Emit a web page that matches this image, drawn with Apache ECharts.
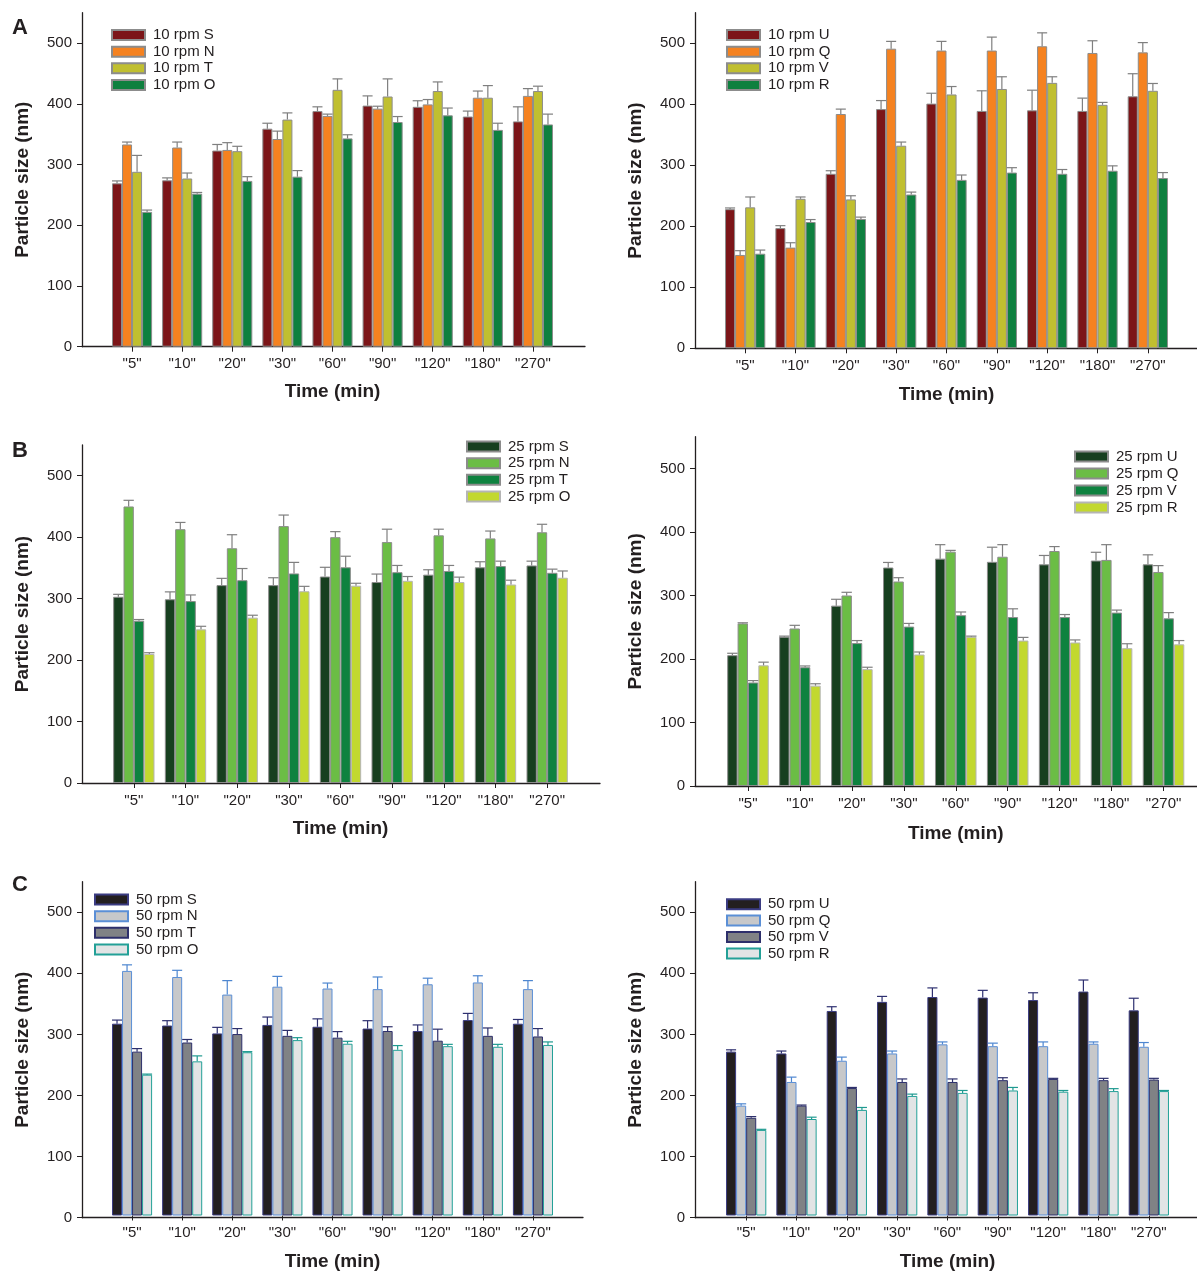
<!DOCTYPE html>
<html>
<head>
<meta charset="utf-8">
<script src="https://cdn.jsdelivr.net/npm/echarts@6/dist/echarts.min.js"></script>
<style>
html,body{margin:0;padding:0;background:#fff;}
#chart{width:1197px;height:1272px;}
</style>
</head>
<body>
<div id="chart"></div>
<script>
// ---------- DATA ----------
const categories = ['"5"', '"10"', '"20"', '"30"', '"60"', '"90"', '"120"', '"180"', '"270"'];
const yTickValues = [0, 100, 200, 300, 400, 500];

// Panel A, left: 10 rpm S, N, T, O
const rpm10S = [269, 274, 323, 359, 388, 397, 395, 379, 371];
const rpm10S_err = [4, 4, 10, 9, 7, 16, 10, 9, 24];
const rpm10N = [333, 328, 324, 342, 380, 392, 399, 410, 413];
const rpm10N_err = [4, 9, 12, 13, 3, 4, 8, 11, 12];
const rpm10T = [288, 277, 322, 374, 423, 412, 421, 410, 421];
const rpm10T_err = [27, 9, 8, 11, 18, 29, 15, 20, 8];
const rpm10O = [222, 252, 273, 280, 343, 370, 381, 357, 366];
const rpm10O_err = [3, 2, 7, 10, 6, 9, 12, 11, 17];

// Panel A, right: 10 rpm U, Q, V, R
const rpm10U = [228, 197, 286, 392, 401, 389, 390, 389, 413];
const rpm10U_err = [2, 4, 5, 14, 17, 33, 33, 21, 37];
const rpm10Q = [153, 165, 384, 491, 488, 488, 495, 484, 485];
const rpm10Q_err = [7, 8, 8, 12, 15, 22, 22, 20, 16];
const rpm10V = [231, 245, 244, 332, 416, 425, 435, 399, 422];
const rpm10V_err = [17, 3, 6, 6, 13, 20, 10, 4, 12];
const rpm10R = [155, 207, 212, 252, 276, 288, 286, 291, 279];
const rpm10R_err = [6, 4, 3, 4, 8, 8, 7, 8, 9];

// Panel B, left: 25 rpm S, N, T, O
const rpm25S = [303, 299, 322, 322, 336, 327, 339, 351, 354];
const rpm25S_err = [4, 12, 11, 12, 15, 13, 8, 9, 7];
const rpm25N = [450, 413, 382, 418, 400, 392, 403, 398, 408];
const rpm25N_err = [10, 11, 22, 18, 9, 21, 10, 12, 13];
const rpm25T = [264, 296, 330, 341, 351, 343, 345, 353, 342];
const rpm25T_err = [2, 10, 19, 18, 18, 11, 9, 8, 6];
const rpm25O = [210, 250, 269, 312, 321, 329, 327, 323, 334];
const rpm25O_err = [2, 5, 4, 8, 4, 7, 8, 7, 11];

// Panel B, right: 25 rpm U, Q, V, R
const rpm25U = [206, 235, 284, 344, 358, 353, 349, 355, 349];
const rpm25U_err = [3, 1, 10, 8, 22, 23, 14, 13, 15];
const rpm25Q = [256, 248, 300, 322, 369, 361, 370, 356, 337];
const rpm25Q_err = [1, 5, 5, 6, 2, 19, 7, 24, 10];
const rpm25V = [163, 187, 225, 251, 269, 266, 266, 273, 264];
const rpm25V_err = [3, 2, 4, 5, 5, 13, 4, 4, 9];
const rpm25R = [190, 158, 184, 207, 235, 229, 226, 217, 223];
const rpm25R_err = [5, 3, 3, 4, 1, 5, 4, 7, 6];

// Panel C, left: 50 rpm S, N, T, O
const rpm50S = [316, 313, 300, 314, 311, 308, 304, 322, 316];
const rpm50S_err = [6, 8, 10, 13, 13, 13, 10, 11, 7];
const rpm50N = [403, 393, 364, 377, 374, 373, 381, 384, 373];
const rpm50N_err = [10, 11, 23, 17, 9, 20, 10, 11, 14];
const rpm50T = [270, 285, 299, 296, 293, 304, 288, 296, 295];
const rpm50T_err = [5, 5, 9, 9, 10, 7, 19, 13, 13];
const rpm50O = [232, 254, 269, 289, 283, 273, 279, 278, 281];
const rpm50O_err = [1, 9, 1, 4, 4, 7, 3, 4, 5];

// Panel C, right: 50 rpm U, Q, V, R
const rpm50U = [270, 267, 337, 352, 360, 359, 355, 369, 338];
const rpm50U_err = [3, 4, 7, 9, 15, 12, 12, 19, 20];
const rpm50Q = [181, 220, 255, 267, 282, 279, 279, 283, 278];
const rpm50Q_err = [3, 8, 6, 4, 4, 5, 7, 3, 7];
const rpm50V = [161, 181, 210, 220, 220, 223, 225, 223, 224];
const rpm50V_err = [2, 1, 1, 5, 5, 4, 1, 3, 2];
const rpm50R = [141, 159, 174, 197, 202, 206, 204, 205, 205];
const rpm50R_err = [1, 3, 4, 3, 4, 5, 2, 4, 1];

// ---------- STYLES / LAYOUT ----------
const FONT = '"Liberation Sans", Arial, Helvetica, sans-serif';
const TXT = '#231f20';
const grayBorder = '#8c8c8c';
const grayErr = '#7f7f7f';

const panels = [
  { // A left
    frame: {left: 82, width: 503}, bars: {left: 107, width: 451}, top: 12.7, zero: 346.7,
    legend: {left: 111, firstRow: 35, gap: 16.67}, xNameGap: 36,
    series: [
      {name: '10 rpm S', v: rpm10S, e: rpm10S_err, fill: '#7c1518', border: grayBorder, err: grayErr},
      {name: '10 rpm N', v: rpm10N, e: rpm10N_err, fill: '#f58220', border: grayBorder, err: grayErr},
      {name: '10 rpm T', v: rpm10T, e: rpm10T_err, fill: '#c0bf30', border: grayBorder, err: grayErr},
      {name: '10 rpm O', v: rpm10O, e: rpm10O_err, fill: '#0e803f', border: grayBorder, err: grayErr}
    ]
  },
  { // A right
    frame: {left: 695, width: 502}, bars: {left: 720, width: 453}, top: 12.7, zero: 348.3,
    legend: {left: 726, firstRow: 35, gap: 16.67}, xNameGap: 37,
    series: [
      {name: '10 rpm U', v: rpm10U, e: rpm10U_err, fill: '#7c1518', border: grayBorder, err: grayErr},
      {name: '10 rpm Q', v: rpm10Q, e: rpm10Q_err, fill: '#f58220', border: grayBorder, err: grayErr},
      {name: '10 rpm V', v: rpm10V, e: rpm10V_err, fill: '#c0bf30', border: grayBorder, err: grayErr},
      {name: '10 rpm R', v: rpm10R, e: rpm10R_err, fill: '#0e803f', border: grayBorder, err: grayErr}
    ]
  },
  { // B left
    frame: {left: 82, width: 518}, bars: {left: 108, width: 465}, top: 445, zero: 783,
    legend: {left: 466, firstRow: 446.5, gap: 16.67}, xNameGap: 36,
    series: [
      {name: '25 rpm S', v: rpm25S, e: rpm25S_err, fill: '#173f1f', border: grayBorder, err: grayErr},
      {name: '25 rpm N', v: rpm25N, e: rpm25N_err, fill: '#6bbd45', border: grayBorder, err: grayErr},
      {name: '25 rpm T', v: rpm25T, e: rpm25T_err, fill: '#0e823f', border: grayBorder, err: grayErr},
      {name: '25 rpm O', v: rpm25O, e: rpm25O_err, fill: '#c2d82f', border: '#b5b5b5', err: grayErr}
    ]
  },
  { // B right
    frame: {left: 695, width: 502}, bars: {left: 722, width: 467.5}, top: 436.7, zero: 786,
    legend: {left: 1074, firstRow: 456.5, gap: 17}, xNameGap: 38,
    series: [
      {name: '25 rpm U', v: rpm25U, e: rpm25U_err, fill: '#173f1f', border: grayBorder, err: grayErr},
      {name: '25 rpm Q', v: rpm25Q, e: rpm25Q_err, fill: '#6bbd45', border: grayBorder, err: grayErr},
      {name: '25 rpm V', v: rpm25V, e: rpm25V_err, fill: '#0e823f', border: grayBorder, err: grayErr},
      {name: '25 rpm R', v: rpm25R, e: rpm25R_err, fill: '#c2d82f', border: '#b5b5b5', err: grayErr}
    ]
  },
  { // C left
    frame: {left: 82, width: 501}, bars: {left: 107, width: 451}, top: 881.7, zero: 1217.7,
    legend: {left: 94, firstRow: 899.5, gap: 16.67}, xNameGap: 36.5,
    series: [
      {name: '50 rpm S', v: rpm50S, e: rpm50S_err, fill: '#231f20', border: '#3b3c82', err: '#2e3070'},
      {name: '50 rpm N', v: rpm50N, e: rpm50N_err, fill: '#c7c8ca', border: '#5b8fd6', err: '#4d86d0'},
      {name: '50 rpm T', v: rpm50T, e: rpm50T_err, fill: '#808285', border: '#2d2f6b', err: '#2d2f6b'},
      {name: '50 rpm O', v: rpm50O, e: rpm50O_err, fill: '#e2e4e5', border: '#23a097', err: '#1f9a90'}
    ]
  },
  { // C right
    frame: {left: 695, width: 502}, bars: {left: 721, width: 453}, top: 881.7, zero: 1217.7,
    legend: {left: 726, firstRow: 904.2, gap: 16.4}, xNameGap: 36.5,
    series: [
      {name: '50 rpm U', v: rpm50U, e: rpm50U_err, fill: '#231f20', border: '#3b3c82', err: '#2e3070'},
      {name: '50 rpm Q', v: rpm50Q, e: rpm50Q_err, fill: '#c7c8ca', border: '#5b8fd6', err: '#4d86d0'},
      {name: '50 rpm V', v: rpm50V, e: rpm50V_err, fill: '#808285', border: '#2d2f6b', err: '#2d2f6b'},
      {name: '50 rpm R', v: rpm50R, e: rpm50R_err, fill: '#e2e4e5', border: '#23a097', err: '#1f9a90'}
    ]
  }
];

const H = 1272;
const grid = [], xAxis = [], yAxis = [], series = [], legend = [];

panels.forEach((p, pi) => {
  const bottom = H - p.zero;
  const gF = pi * 2, gB = pi * 2 + 1;
  grid.push({left: p.frame.left, width: p.frame.width, top: p.top, bottom: bottom, containLabel: false});
  grid.push({left: p.bars.left, width: p.bars.width, top: p.top, bottom: bottom, containLabel: false});

  // frame axes (axis lines, y ticks and labels, titles)
  xAxis.push({
    gridIndex: gF, type: 'value', min: 0, max: 1,
    axisLine: {show: true, lineStyle: {color: TXT, width: 1.3}},
    axisTick: {show: false}, axisLabel: {show: false}, splitLine: {show: false}
  });
  yAxis.push({
    gridIndex: gF, type: 'value', min: 0, max: 550, interval: 100,
    name: 'Particle size (nm)', nameLocation: 'middle', nameGap: 50, nameRotate: 90,
    nameTextStyle: {fontFamily: FONT, fontWeight: 'bold', fontSize: 19, color: TXT},
    axisLine: {show: true, lineStyle: {color: TXT, width: 1.3}},
    axisTick: {show: true, length: 5, lineStyle: {color: TXT, width: 1}, customValues: yTickValues},
    axisLabel: {show: true, margin: 10, fontFamily: FONT, fontSize: 15, color: TXT, customValues: yTickValues},
    splitLine: {show: false}
  });
  // bar axes
  xAxis.push({
    gridIndex: gB, type: 'category', data: categories, boundaryGap: true,
    name: 'Time (min)', nameLocation: 'middle', nameGap: p.xNameGap,
    nameTextStyle: {fontFamily: FONT, fontWeight: 'bold', fontSize: 19, color: TXT},
    axisLine: {show: false},
    axisTick: {show: true, alignWithLabel: true, length: 5, lineStyle: {color: TXT, width: 1}},
    axisLabel: {show: true, margin: 10, fontFamily: FONT, fontSize: 15, color: TXT, interval: 0},
    splitLine: {show: false}
  });
  yAxis.push({
    gridIndex: gB, type: 'value', min: 0, max: 550, show: false, splitLine: {show: false}
  });

  p.series.forEach((s, si) => {
    series.push({
      type: 'bar', name: s.name, xAxisIndex: gB, yAxisIndex: gB,
      data: s.v, barGap: '0%', barCategoryGap: '20%',
      itemStyle: {color: s.fill, borderColor: s.border, borderWidth: 1},
      emphasis: {disabled: true}, animation: false, z: 2
    });
    const errData = s.v.map((v, i) => [i, v, s.e[i]]);
    series.push({
      type: 'custom', name: s.name + ' error', xAxisIndex: gB, yAxisIndex: gB,
      data: errData, animation: false, z: 3, silent: true,
      renderItem: (params, api) => {
        const ci = api.value(0), v = api.value(1), e = api.value(2);
        const base = api.coord([ci, v]);
        const top = api.coord([ci, v + e]);
        const band = api.size([1, 0])[0];
        const w = band * 0.8 / 4;
        const x = base[0] + (si - 1.5) * w;
        const st = {stroke: s.err, lineWidth: 1.2};
        return {
          type: 'group',
          children: [
            {type: 'line', shape: {x1: x, y1: base[1], x2: x, y2: top[1]}, style: st},
            {type: 'line', shape: {x1: x - w / 2, y1: top[1], x2: x + w / 2, y2: top[1]}, style: st}
          ]
        };
      }
    });
  });

  legend.push({
    data: p.series.map(s => s.name),
    orient: 'vertical', left: p.legend.left, top: p.legend.firstRow - p.legend.gap / 2,
    padding: 0, itemGap: 0, itemWidth: 33, itemHeight: 10, icon: 'rect',
    selectedMode: false,
    textStyle: {fontFamily: FONT, fontSize: 15, color: TXT, lineHeight: p.legend.gap, padding: [0, 0, 0, 3]}
  });
});

const chart = echarts.init(document.getElementById('chart'), null, {renderer: 'canvas'});
chart.setOption({
  backgroundColor: '#fff',
  animation: false,
  grid, xAxis, yAxis, series, legend,
  graphic: [
    {type: 'text', left: 12, top: 17, style: {text: 'A', font: 'bold 22px ' + FONT, fill: TXT}},
    {type: 'text', left: 12, top: 440, style: {text: 'B', font: 'bold 22px ' + FONT, fill: TXT}},
    {type: 'text', left: 12, top: 874, style: {text: 'C', font: 'bold 22px ' + FONT, fill: TXT}}
  ]
});
</script>
</body>
</html>
